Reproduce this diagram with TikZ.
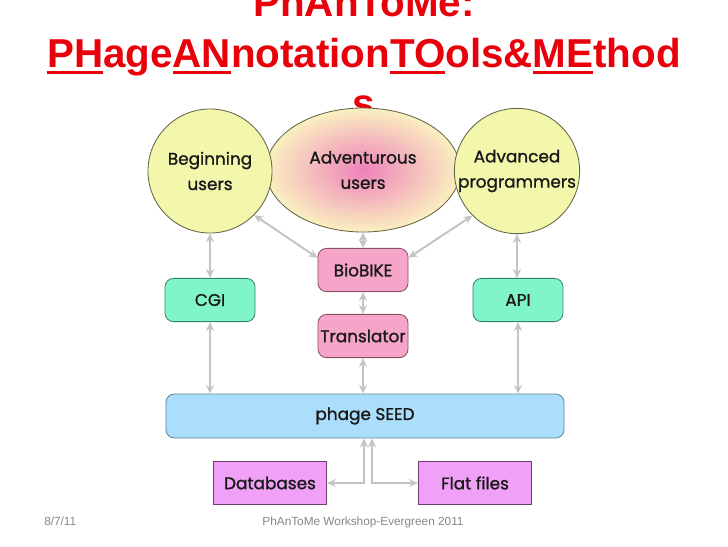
\documentclass[tikz,border=0pt]{standalone}
\usepackage{fontspec}
\usepackage{tikz}
\usetikzlibrary{arrows.meta,positioning,calc,shapes.geometric}
\usepackage{xcolor}
\newfontfamily\titlefont{Liberation Sans}
\newfontfamily\diagfont[FakeBold=1.2]{Poppins}
\definecolor{titred}{RGB}{232,0,10}
\definecolor{usercol}{RGB}{243,247,172}
\definecolor{userline}{RGB}{100,100,70}
\definecolor{advin}{RGB}{238,130,185}
\definecolor{advout}{RGB}{250,240,192}
\definecolor{gatecol}{RGB}{128,245,200}
\definecolor{gateline}{RGB}{60,130,105}
\definecolor{biocol}{RGB}{245,165,200}
\definecolor{bioline}{RGB}{140,80,100}
\definecolor{seedcol}{RGB}{170,222,250}
\definecolor{seedline}{RGB}{100,135,155}
\definecolor{storecol}{RGB}{240,160,246}
\definecolor{storeline}{RGB}{110,60,115}
\definecolor{linkcol}{RGB}{196,196,196}
\definecolor{footcol}{RGB}{135,135,135}
\newcommand\titleul[1]{\setbox0\hbox{#1}\rlap{\rule[-0.185em]{\wd0}{0.075em}}\box0}
\tikzset{
  user/.style={circle, draw=userline, fill=usercol, line width=0.6pt, minimum size=3.1cm, inner sep=0pt, align=center, font=\diagfont\fontsize{12}{18}\selectfont, text=black!90},
  gate/.style={draw=#1line, fill=#1col, rounded corners=6pt, line width=0.6pt, minimum width=2.25cm, minimum height=1.08cm, inner sep=0pt, font=\diagfont\fontsize{12}{14}\selectfont, text=black!90},
  store/.style={draw=storeline, fill=storecol, line width=0.6pt, minimum width=2.83cm, minimum height=1.08cm, inner sep=0pt, font=\diagfont\fontsize{12}{14}\selectfont, text=black!90},
  link/.style={{Stealth[length=2.2mm,width=2mm]}-{Stealth[length=2.2mm,width=2mm]}, draw=linkcol, line width=1.4pt},
  ttl/.style={anchor=base, text=titred, font=\titlefont\bfseries\fontsize{28.7}{35.5}\selectfont, inner sep=0pt},
  foot/.style={anchor=base, text=footcol, font=\titlefont\fontsize{8.4}{10}\selectfont, inner sep=0pt},
}
\begin{document}
\begin{tikzpicture}[x=0.025cm, y=-0.025cm]
  \useasboundingbox (0,0) rectangle (728,546);
  \clip (0,0) rectangle (728,546);
  \fill[white] (0,0) rectangle (728,546);
  % title
  \node[ttl] (title1) at (364,17) {PhAnToMe:};
  \node[ttl] (title2) at (364,67) {\titleul{PH}age\titleul{AN}notation\titleul{TO}ols\&\titleul{ME}thod};
  \node[ttl] (title3) at (364,117) {s};
  % users
  \node[ellipse, draw=userline, line width=0.6pt, inner color=advin, outer color=advout, minimum width=4.85cm, minimum height=3.1cm, align=center, font=\diagfont\fontsize{12}{18}\selectfont, text=black!90] (adventurous) at (363,170) {Adventurous\\users};
  \node[user] (beginning) at (210,171) {Beginning\\users};
  \node[user] (advanced) at (517,171) {Advanced\\programmers};
  % middle layer
  \node[gate=bio] (biobike) at (363,270) {BioBIKE};
  \node[gate=bio] (translator) at (363,336) {Translator};
  \node[gate=gate] (cgi) at (210,300) {CGI};
  \node[gate=gate] (api) at (518,300) {API};
  \node[gate=seed, minimum width=9.95cm, minimum height=1.1cm] (seed) at (365,416) {phage SEED};
  \node[store] (databases) at (270,483) {Databases};
  \node[store] (flatfiles) at (475,483) {Flat files};
  \coordinate (dbturn) at (364,483);
  \coordinate (flatturn) at (372,483);
  % links
  \draw[link] (beginning.south) -- (cgi.north);
  \draw[link] (advanced.south) -- (advanced.south |- api.north);
  \draw[link] (cgi.south) -- (cgi.south |- seed.north);
  \draw[link] (api.south) -- (api.south |- seed.north);
  \draw[link] (beginning.-45) -- (biobike.165);
  \draw[link] (advanced.-135) -- (biobike.15);
  \draw[link] (adventurous.south) -- (biobike.north);
  \draw[link] (biobike.south) -- (translator.north);
  \draw[link] (translator.south) -- (translator.south |- seed.north);
  \draw[link] (databases.east) -- (dbturn) -- (dbturn |- seed.south);
  \draw[link] (flatfiles.west) -- (flatturn) -- (flatturn |- seed.south);
  % footer
  \node[foot, anchor=base west] (date) at (44,525) {8/7/11};
  \node[foot] (event) at (363,525) {PhAnToMe Workshop-Evergreen 2011};
\end{tikzpicture}
\end{document}
